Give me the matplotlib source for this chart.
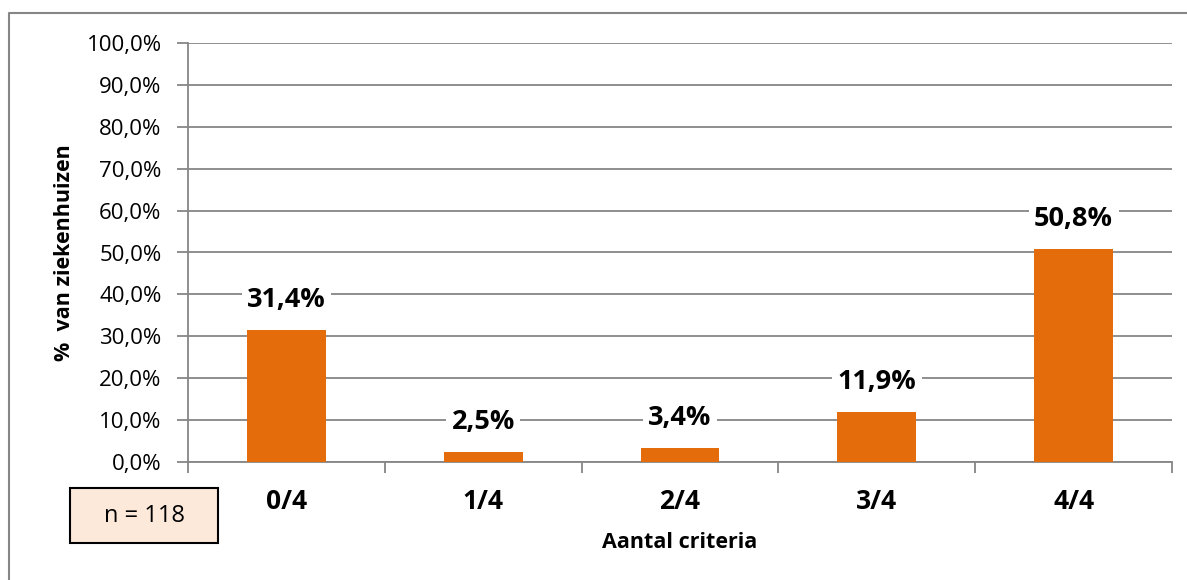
import matplotlib.pyplot as plt
from matplotlib.lines import Line2D
from matplotlib.patches import Rectangle
from matplotlib.ticker import FixedLocator

plt.rcParams['font.family'] = ['Open Sans', 'DejaVu Sans']

# data
categories = ['0/4', '1/4', '2/4', '3/4', '4/4']
values = [31.4, 2.5, 3.4, 11.9, 50.8]
y_ticks = [0, 10, 20, 30, 40, 50, 60, 70, 80, 90, 100]
n_total = 118

orange = '#E46C0A'
grey = '#868686'

fig = plt.figure(figsize=(11.87, 5.80), dpi=100)
ax = fig.add_axes([188 / 1187, 1 - 462 / 580, (1172 - 188) / 1187, (462 - 43) / 580])

x = list(range(len(categories)))
ax.bar(x, values, width=0.4, color=orange, zorder=3)

ax.set_xlim(-0.5, len(categories) - 0.5)
ax.set_ylim(0, 100)
ax.set_yticks(y_ticks)
ax.set_yticklabels([f'{v:.1f}%'.replace('.', ',') for v in y_ticks], fontsize=16)
ax.grid(axis='y', color=grey, linewidth=1.3, zorder=0)
ax.tick_params(axis='y', length=8, width=1.3, color=grey, pad=11)

ax.set_xticks(x)
ax.set_xticklabels(categories, fontsize=19, fontweight='bold')
ax.tick_params(axis='x', which='major', length=0, pad=19)
ax.xaxis.set_minor_locator(FixedLocator([i - 0.5 for i in range(len(categories) + 1)]))
ax.tick_params(axis='x', which='minor', length=8, width=1.3, color=grey)

for s in ['top', 'right']:
    ax.spines[s].set_visible(False)
for s in ['left', 'bottom']:
    ax.spines[s].set_color(grey)
    ax.spines[s].set_linewidth(1.3)

ax.set_xlabel('Aantal criteria', fontsize=15.5, fontweight='bold', labelpad=12)
ax.set_ylabel('%  van ziekenhuizen', fontsize=15.5, fontweight='bold', labelpad=8)

# value labels above the bars
for xi, v in zip(x, values):
    ax.annotate(f'{v:.1f}%'.replace('.', ','), (xi, v), xytext=(0, 30),
                textcoords='offset pixels', ha='center', va='center',
                fontsize=19.5, fontweight='bold', zorder=4,
                bbox=dict(boxstyle='square,pad=0.2', fc='white', ec='none'))

# sample size box
fig.patches.append(Rectangle((70 / 1187, 1 - 543 / 580), 148 / 1187, 55 / 580,
                             transform=fig.transFigure, fc='#FDE9D9', ec='black', lw=1.5))
fig.text(144 / 1187, 1 - 516 / 580, f'n = {n_total}', ha='center', va='center', fontsize=17)

# outer chart border (left and top edges only fall inside the image)
bx, by = 9 / 1187, 1 - 13 / 580
fig.lines.append(Line2D([bx, bx, 1.0], [0.0, by, by], transform=fig.transFigure,
                        color=grey, lw=1.5))

fig.savefig('out.png', dpi=100)
